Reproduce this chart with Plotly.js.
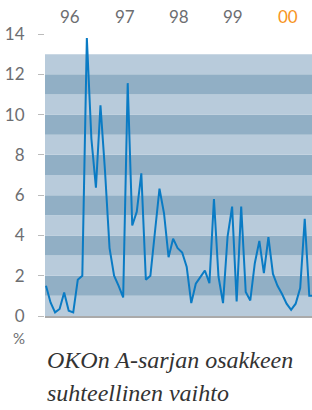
<!DOCTYPE html>
<html>
<head>
<meta charset="utf-8">
<script src="https://cdn.plot.ly/plotly-3.0.1.min.js"></script>
<style>html,body{margin:0;padding:0;background:#fff;}</style>
</head>
<body>
<div id="chart" style="width:312px;height:410px;"></div>
<script>
// monthly relative turnover (%), Jan 1996 onwards
const turnover = [1.5, 0.67, 0.18, 0.35, 1.17, 0.26, 0.18, 1.8, 2.0, 13.8,
  8.8, 6.37, 10.46, 7.2, 3.37, 2.0, 1.5, 0.92, 11.56, 4.49,
  5.18, 7.08, 1.8, 2.0, 4.17, 6.32, 5.1, 2.92, 3.84, 3.37,
  3.15, 2.43, 0.64, 1.6, 1.93, 2.26, 1.63, 5.81, 1.96, 0.64,
  3.94, 5.43, 0.72, 5.43, 1.19, 0.77, 2.62, 3.73, 2.13, 3.91,
  2.09, 1.5, 1.09, 0.61, 0.31, 0.61, 1.39, 4.82, 1.0, 1.0];
const months = turnover.map((v, i) => i);
const yearLabels = ['96', '97', '98', '99', '00'];
const yearColors = ['#6d6e71', '#6d6e71', '#6d6e71', '#6d6e71', '#f7941d'];
const yTicks = [0, 2, 4, 6, 8, 10, 12, 14];
const captionLines = ['OKOn A-sarjan osakkeen', 'suhteellinen vaihto'];
const bandTop = 13;

const H = 410, W = 312, mt = 34, mb = 94, ml = 45, mr = 0;
const ph = H - mt - mb, pw = W - ml - mr;
function py(pix) { return (H - mb - pix) / ph; }
function px(pix) { return (pix - ml) / pw; }

const shapes = [];
for (let b = 0; b < bandTop; b++) {
  shapes.push({type: 'rect', xref: 'paper', yref: 'y', x0: 0, x1: 1, y0: b, y1: b + 1,
    fillcolor: (b % 2 === 1) ? '#91afc5' : '#b8cbdb', line: {width: 0}, layer: 'below'});
}

const annotations = yearLabels.map((t, i) => ({
  text: t, x: 5.3 + 12 * i, xref: 'x', y: py(17), yref: 'paper', yanchor: 'middle',
  showarrow: false, font: {family: 'Lato, sans-serif', size: 17, color: yearColors[i]}
}));
annotations.push({text: '%', x: px(19), xref: 'paper', xanchor: 'center', y: py(338), yref: 'paper',
  yanchor: 'middle', showarrow: false, font: {family: 'Lato, sans-serif', size: 15, color: '#6d6e71'}});
captionLines.forEach((t, i) => annotations.push({
  text: t, xref: 'paper', yref: 'paper', x: px(45), xanchor: 'left',
  y: py(i === 0 ? 360 : 393), yanchor: 'middle', showarrow: false, align: 'left',
  font: {family: 'Liberation Serif, Times New Roman, serif', size: 24, color: '#333333', style: 'italic'}
}));

Plotly.newPlot('chart', [{
  x: months, y: turnover, type: 'scatter', mode: 'lines',
  line: {color: '#0a7bc4', width: 2}, hoverinfo: 'skip'
}], {
  width: W, height: H,
  margin: {l: ml, r: mr, t: mt, b: mb},
  paper_bgcolor: '#ffffff', plot_bgcolor: '#ffffff',
  showlegend: false,
  xaxis: {range: [-0.22, 58.6], showgrid: false, zeroline: false, showticklabels: false,
    showline: true, linecolor: '#aaaaaa', linewidth: 1.5, ticks: ''},
  yaxis: {range: [0, 14], tickvals: yTicks, ticktext: yTicks.map(String),
    showgrid: false, zeroline: false, showline: false,
    ticks: 'outside', ticklen: 6, tickcolor: '#bbbbbb', tickwidth: 1, ticklabelstandoff: 10,
    tickfont: {family: 'Lato, sans-serif', size: 17, color: '#6d6e71'}},
  shapes: shapes,
  annotations: annotations
}, {staticPlot: true, displayModeBar: false});
</script>
</body>
</html>
